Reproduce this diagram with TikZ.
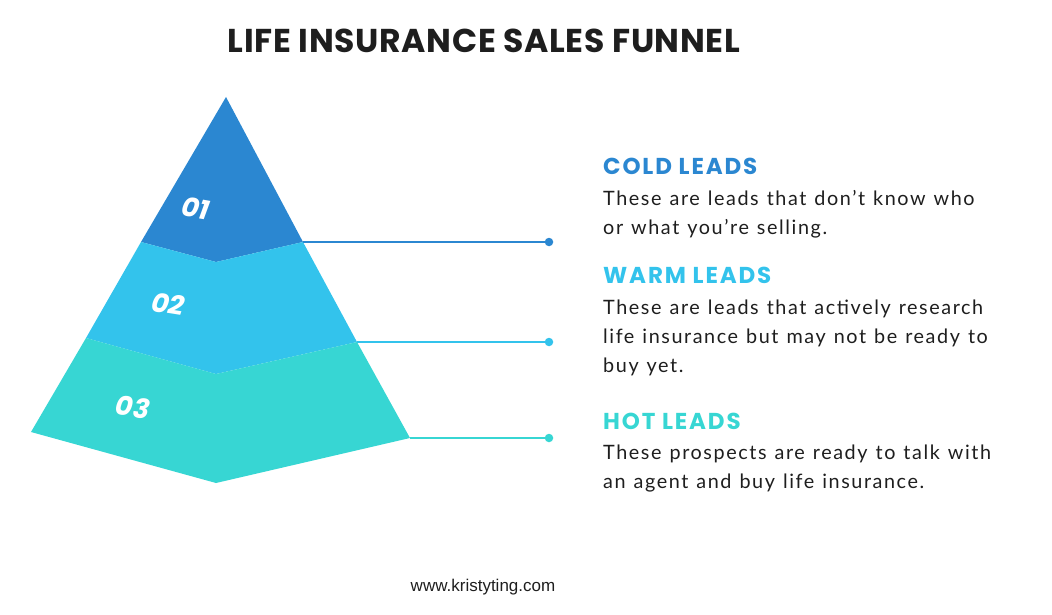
\documentclass[tikz,border=0pt]{standalone}
\usepackage{fontspec}
\setmainfont{Lato}[LetterSpace=8, WordSpace=1.2]
\newfontfamily\titlefont{Poppins}[LetterSpace=2]
\newfontfamily\headfont{Poppins}[LetterSpace=8]
\newfontfamily\numfont{Poppins}
\newfontfamily\urlfont{Liberation Sans}
\usetikzlibrary{positioning}

\definecolor{coldblue}{HTML}{2B87D1}
\definecolor{warmblue}{HTML}{33C3EC}
\definecolor{hotteal}{HTML}{37D6D3}
\definecolor{inkgray}{HTML}{1E1E1E}

\begin{document}
\begin{tikzpicture}[
  x=1pt, y=-1pt,
  num/.style={text=white, font=\numfont\bfseries\itshape\fontsize{27}{27}\selectfont},
  head/.style={anchor=base west, inner sep=0pt, font=\headfont\bfseries\fontsize{23}{23}\selectfont},
  body/.style={anchor=base west, inner sep=0pt, align=left, text=inkgray,
               font=\fontsize{19.8}{29}\selectfont},
  lead/.style={line width=1.4pt},
  dot/.style={circle, inner sep=0pt, minimum size=8.5pt}
]
  \useasboundingbox (0,0) rectangle (1052,615);

  % Title
  \node[anchor=base, inner sep=0pt, text=inkgray,
        font=\titlefont\bfseries\fontsize{33}{33}\selectfont]
       (title) at (484,53) {LIFE INSURANCE SALES FUNNEL};

  % Funnel layers
  \coordinate (apex) at (226,97);
  \coordinate (c1) at (303,242);
  \coordinate (c2) at (357,342);
  \coordinate (c3) at (410,438);
  \fill[coldblue] (apex) -- (c1) -- (216,262) -- (141,242) -- cycle;
  \fill[warmblue] (141,242) -- (216,262) -- (c1) -- (c2) -- (216,374) -- (86,338) -- cycle;
  \fill[hotteal] (86,338) -- (216,374) -- (c2) -- (c3) -- (216,483) -- (31,432) -- cycle;

  \node[num, rotate=-10] (n1) at (196,208) {01};
  \node[num, rotate=-9]  (n2) at (168,304) {02};
  \node[num, rotate=-7]  (n3) at (133,407) {03};

  % Leader lines
  \node[dot, fill=coldblue] (d1) at (549,242) {};
  \node[dot, fill=warmblue] (d2) at (549,342) {};
  \node[dot, fill=hotteal]  (d3) at (549,438) {};
  \draw[lead, coldblue] (c1) -- (d1);
  \draw[lead, warmblue] (c2) -- (d2);
  \draw[lead, hotteal]  (c3) -- (d3);

  % Descriptions (body anchored on its last line)
  \node[head, text=coldblue] (cold) at (603,174) {COLD LEADS};
  \node[body] (coldtxt) at (603,234)
       {These are leads that don’t know who\\or what you’re selling.};

  \node[head, text=warmblue] (warm) at (603,283) {WARM LEADS};
  \node[body] (warmtxt) at (603,372)
       {These are leads that actively research\\life insurance but may not be ready to\\buy yet.};

  \node[head, text=hotteal] (hot) at (603,429) {HOT LEADS};
  \node[body] (hottxt) at (603,488)
       {These prospects are ready to talk with\\an agent and buy life insurance.};

  \node[anchor=base, inner sep=0pt, text=inkgray,
        font=\urlfont\fontsize{17}{17}\selectfont]
       (url) at (483,591) {www.kristyting.com};
\end{tikzpicture}
\end{document}
